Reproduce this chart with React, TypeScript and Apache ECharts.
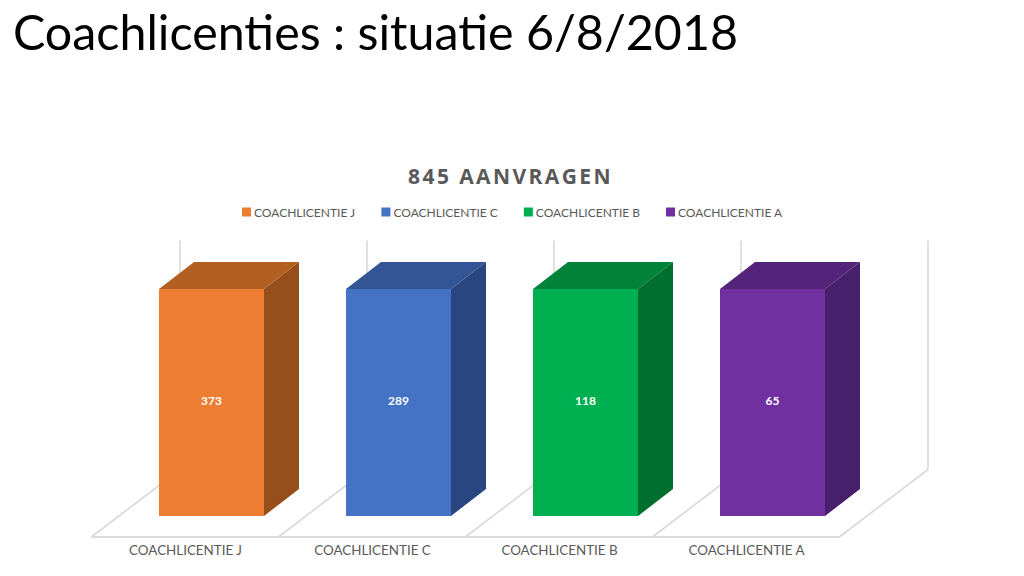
import React, { useEffect, useRef } from "react";
import * as echarts from "echarts";

const pageTitle = "Coachlicenties : situatie 6/8/2018";
const chartTitle = "845 AANVRAGEN";
const categories = ["COACHLICENTIE J", "COACHLICENTIE C", "COACHLICENTIE B", "COACHLICENTIE A"];
const requests = [373, 289, 118, 65];
const stackedShare = [100, 100, 100, 100];
const frontColors = ["#ED7D31", "#4472C4", "#00B050", "#7030A0"];
const topColors = ["#B45F22", "#335595", "#008238", "#54247A"];
const sideColors = ["#964F1B", "#294680", "#006F30", "#481F6B"];

const wallColor = "#D9D9D9";

export default function App() {
  const ref = useRef<HTMLDivElement>(null);

  useEffect(() => {
    document.body.style.margin = "0";
    const chart = echarts.init(ref.current!, null, { renderer: "svg" });

    const floorDX = 88;
    const floorDY = -67;
    const barOffsetX = 67;
    const barOffsetY = -20.5;
    const barWidth = 105;
    const depthX = 35;
    const depthY = -27;

    const renderFloor = (_p: any, api: any) => {
      const i = api.value(0);
      const base = api.coord([i, 0]);
      const top = api.coord([i, 100]);
      const band = api.size([1, 0])[0];
      const wallTop = top[1] + floorDY - 2;
      const line = (x1: number, y1: number, x2: number, y2: number) => ({
        type: "line",
        shape: { x1, y1, x2, y2 },
        style: { stroke: wallColor, lineWidth: 1.6 },
      });
      const left = base[0] - band / 2;
      const children: any[] = [
        line(left, base[1], left + floorDX, base[1] + floorDY),
        line(left + floorDX, base[1] + floorDY, left + floorDX, wallTop),
      ];
      if (i === categories.length - 1) {
        const right = left + band;
        children.push(line(right, base[1], right + floorDX, base[1] + floorDY));
        children.push(line(right + floorDX, base[1] + floorDY, right + floorDX, wallTop));
      }
      return { type: "group", children };
    };

    const renderBar = (_p: any, api: any) => {
      const i = api.value(0);
      const base = api.coord([i, 0]);
      const top = api.coord([i, api.value(1)]);
      const band = api.size([1, 0])[0];
      const x0 = base[0] - band / 2 + barOffsetX;
      const x1 = x0 + barWidth;
      const yB = base[1] + barOffsetY;
      const yT = top[1] + barOffsetY;
      return {
        type: "group",
        children: [
          {
            type: "polygon",
            shape: { points: [[x1, yT], [x1 + depthX, yT + depthY], [x1 + depthX, yB + depthY], [x1, yB]] },
            style: { fill: sideColors[i] },
          },
          {
            type: "polygon",
            shape: { points: [[x0, yT], [x0 + depthX, yT + depthY], [x1 + depthX, yT + depthY], [x1, yT]] },
            style: { fill: topColors[i] },
          },
          {
            type: "rect",
            shape: { x: x0, y: yT, width: barWidth, height: yB - yT },
            style: { fill: frontColors[i] },
          },
          {
            type: "text",
            x: (x0 + x1) / 2,
            y: (yT + yB) / 2 - 2.5,
            style: {
              text: String(api.value(2)),
              fill: "#FFFFFF",
              font: "bold 12px Lato",
              align: "center",
              verticalAlign: "middle",
            },
          },
        ],
      };
    };

    chart.setOption({
      animation: false,
      backgroundColor: "#FFFFFF",
      title: [
        {
          text: pageTitle,
          left: 8,
          top: 2,
          textStyle: { fontFamily: "Lato", fontSize: 48.4, fontWeight: "normal", color: "#000000" },
        },
        {
          text: chartTitle,
          left: 505.5,
          textAlign: "center",
          top: 160,
          textStyle: { fontFamily: "Open Sans", fontSize: 21, fontWeight: "bold", color: "#595959" },
        },
      ],
      legend: {
        data: categories,
        left: 237,
        top: 201,
        itemWidth: 9,
        itemHeight: 9,
        itemGap: 26,
        icon: "rect",
        textStyle: { fontFamily: "Lato", fontSize: 12, color: "#595959", padding: [0, 0, 0, -2] },
      },
      grid: { left: 92, right: 184, top: 309.5, bottom: 39.5 },
      xAxis: {
        type: "category",
        data: categories,
        axisTick: { show: false },
        axisLine: { lineStyle: { color: "#D0D0D0", width: 1.6 } },
        axisLabel: { fontFamily: "Lato", fontSize: 13.4, color: "#595959", margin: 7 },
      },
      yAxis: { type: "value", min: 0, max: 100, show: false },
      series: [
        {
          type: "custom",
          name: "floor",
          silent: true,
          z: 1,
          renderItem: renderFloor,
          data: categories.map((_, i) => [i, 0]),
        },
        ...categories.map((name, i) => ({
          type: "custom",
          name,
          z: 2,
          itemStyle: { color: frontColors[i] },
          renderItem: renderBar,
          encode: { x: 0, y: 1 },
          data: [[i, stackedShare[i], requests[i]]],
        })),
      ],
    });

    return () => chart.dispose();
  }, []);

  return (
    <>
      <style>{`svg text[style*="21px"]{letter-spacing:2.4px}`}</style>
      <div ref={ref} style={{ width: 1024, height: 576 }} />
    </>
  );
}
